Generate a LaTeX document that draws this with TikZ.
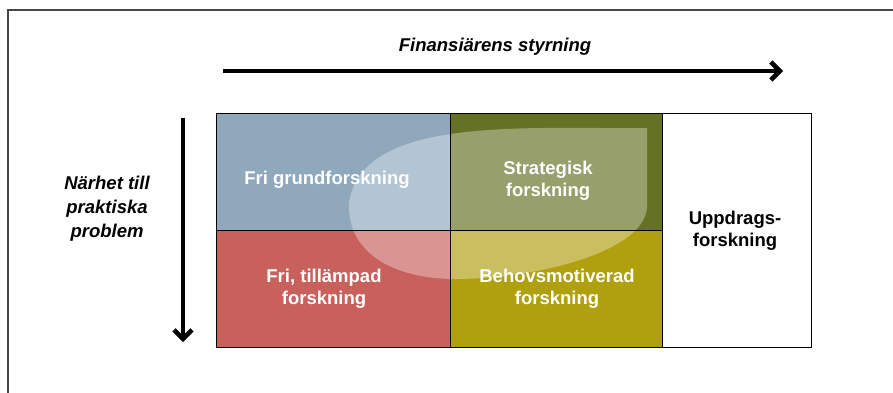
\documentclass[tikz,border=0pt]{standalone}
\usepackage{fontspec}
\setmainfont{Liberation Sans}
\usetikzlibrary{arrows.meta}
\definecolor{cblue}{RGB}{143,168,188}
\definecolor{cred}{RGB}{200,96,92}
\definecolor{colive}{RGB}{101,113,36}
\definecolor{cmust}{RGB}{176,160,16}
\definecolor{cframe}{RGB}{70,70,70}
\tikzset{
  cell/.style={draw=black, line width=0.9pt, minimum width=#1, minimum height=117pt, inner sep=0pt, anchor=north west},
  celltext/.style={text=white, font=\fontsize{18.5}{22}\selectfont\bfseries, align=center, inner sep=0pt},
  headtext/.style={text=black, font=\fontsize{18.5}{24}\selectfont\bfseries\itshape, align=center, inner sep=0pt},
  bigarrow/.style={line width=4pt, -{Straight Barb[length=9pt,width=18pt,line width=4.5pt]}},
}
\begin{document}
\begin{tikzpicture}[x=1pt,y=-1pt]
\useasboundingbox (0,0) rectangle (893,393);
\fill[white] (0,0) rectangle (893,393);
% outer frame
\draw[cframe, line width=2pt] (893,10) -- (8,10) -- (8,393);
% cells
\node[cell=234pt, fill=cblue] (c11) at (216,113) {};
\node[cell=212pt, fill=colive] (c12) at (450,113) {};
\node[cell=234pt, fill=cred] (c21) at (216,230) {};
\node[cell=212pt, fill=cmust] (c22) at (450,230) {};
\node[cell=149pt, minimum height=234pt, fill=white] (c3) at (662,113) {};
% translucent blob
\fill[white, fill opacity=0.33]
  (647,128) -- (600,128)
  .. controls (480,127) and (360,128) .. (349,203)
  .. controls (347,257) and (400,279) .. (455,279)
  .. controls (535,279) and (645,252) .. (647,207)
  -- cycle;
% redraw grid lines over blob
\draw[black, line width=0.9pt] (216,113) rectangle (811,347);
\draw[black, line width=0.9pt] (450,113) -- (450,347);
\draw[black, line width=0.9pt] (662,113) -- (662,347);
\draw[black, line width=0.9pt] (216,230) -- (662,230);
% texts
\node[celltext] (t11) at (327,180) {Fri grundforskning};
\node[celltext] (t12) at (548,181) {Strategisk\\forskning};
\node[celltext] (t21) at (324,289) {Fri, tillämpad\\forskning};
\node[celltext] (t22) at (557,289) {Behovsmotiverad\\forskning};
\node[celltext, text=black] (t3) at (735,231) {Uppdrags-\\forskning};
\node[headtext] (h1) at (495,47) {Finansiärens styrning};
\node[headtext] (h2) at (107,209) {Närhet till\\praktiska\\problem};
% arrows
\coordinate (a1) at (223,71);
\coordinate (a2) at (783,71);
\coordinate (b1) at (183,118);
\coordinate (b2) at (183,342);
\draw[bigarrow] (a1) -- (a2);
\draw[bigarrow] (b1) -- (b2);
\end{tikzpicture}
\end{document}
